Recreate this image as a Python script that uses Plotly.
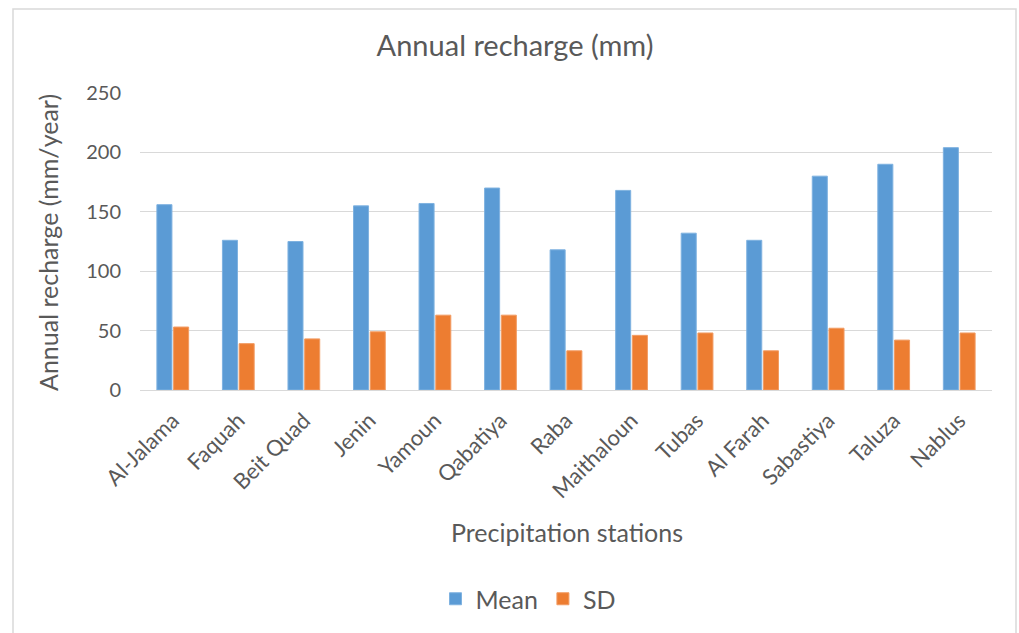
import plotly.graph_objects as go

stations = ["Al-Jalama", "Faquah", "Beit Quad", "Jenin", "Yamoun", "Qabatiya", "Raba",
            "Maithaloun", "Tubas", "Al Farah", "Sabastiya", "Taluza", "Nablus"]
mean_vals = [156, 126, 125, 155, 157, 170, 118, 168, 132, 126, 180, 190, 204]
sd_vals = [53, 39, 43, 49, 63, 63, 33, 46, 48, 33, 52, 42, 48]
y_ticks = [0, 50, 100, 150, 200, 250]

FONT = "Lato, 'Open Sans', sans-serif"
GRAY = "#595959"

# plot area in pixels: left 140, right 992, top 93, bottom 390
PW, PH = 852, 297

fig = go.Figure()
fig.add_trace(go.Bar(name="Mean", x=stations, y=mean_vals,
                     marker=dict(color="#5B9BD5", line=dict(color="#7FB2E0", width=1))))
fig.add_trace(go.Bar(name="SD", x=stations, y=sd_vals,
                     marker=dict(color="#ED7D31", line=dict(color="#F29B62", width=1))))

fig.update_layout(
    width=1019, height=633,
    margin=dict(l=140, r=27, t=93, b=243, autoexpand=False),
    paper_bgcolor="white", plot_bgcolor="white",
    font=dict(family=FONT, color=GRAY, size=17),
    barmode="group", bargap=0.49, bargroupgap=0.1,
    title=dict(text="Annual recharge (mm)", x=(515 - 140) / PW, xref="paper", xanchor="center",
               y=1 - 46 / 633, yanchor="middle",
               font=dict(size=29, color=GRAY, family=FONT)),
    showlegend=True,
    legend=dict(orientation="h", x=(528 - 140) / PW, xref="paper", xanchor="center",
                y=-(599 - 390) / PH, yanchor="middle",
                font=dict(size=25, color=GRAY), itemwidth=30),
    annotations=[
        dict(text="Precipitation stations", xref="paper", yref="paper",
             x=(567 - 140) / PW, y=-(532 - 390) / PH, xanchor="center", yanchor="middle",
             showarrow=False, font=dict(size=25, color=GRAY)),
        dict(text="Annual recharge (mm/year)", xref="paper", yref="paper",
             x=-(140 - 48) / PW, y=(390 - 243) / PH, xanchor="center", yanchor="middle",
             textangle=-90, showarrow=False, font=dict(size=25, color=GRAY)),
    ],
    shapes=[dict(type="rect", xref="paper", yref="paper",
                 x0=-(140 - 13) / PW, x1=1 + (1016 - 992) / PW,
                 y0=-(640 - 390) / PH, y1=1 + (93 - 9) / PH,
                 line=dict(color="#D9D9D9", width=1.5), fillcolor="rgba(0,0,0,0)",
                 layer="below")],
)
fig.update_xaxes(tickangle=-45, showline=True, linecolor="#D9D9D9", linewidth=1,
                 ticks="", tickfont=dict(size=22, color=GRAY), automargin=False,
                 ticklabelstandoff=8)
fig.update_yaxes(range=[0, 250], tickvals=y_ticks, showgrid=True, gridcolor="#D9D9D9",
                 gridwidth=1, zeroline=False, ticks="", tickfont=dict(size=20, color=GRAY),
                 ticklabelstandoff=18, automargin=False)

fig.write_html("out.html", post_script="document.body.style.margin='0';",
               config={"displayModeBar": False})
